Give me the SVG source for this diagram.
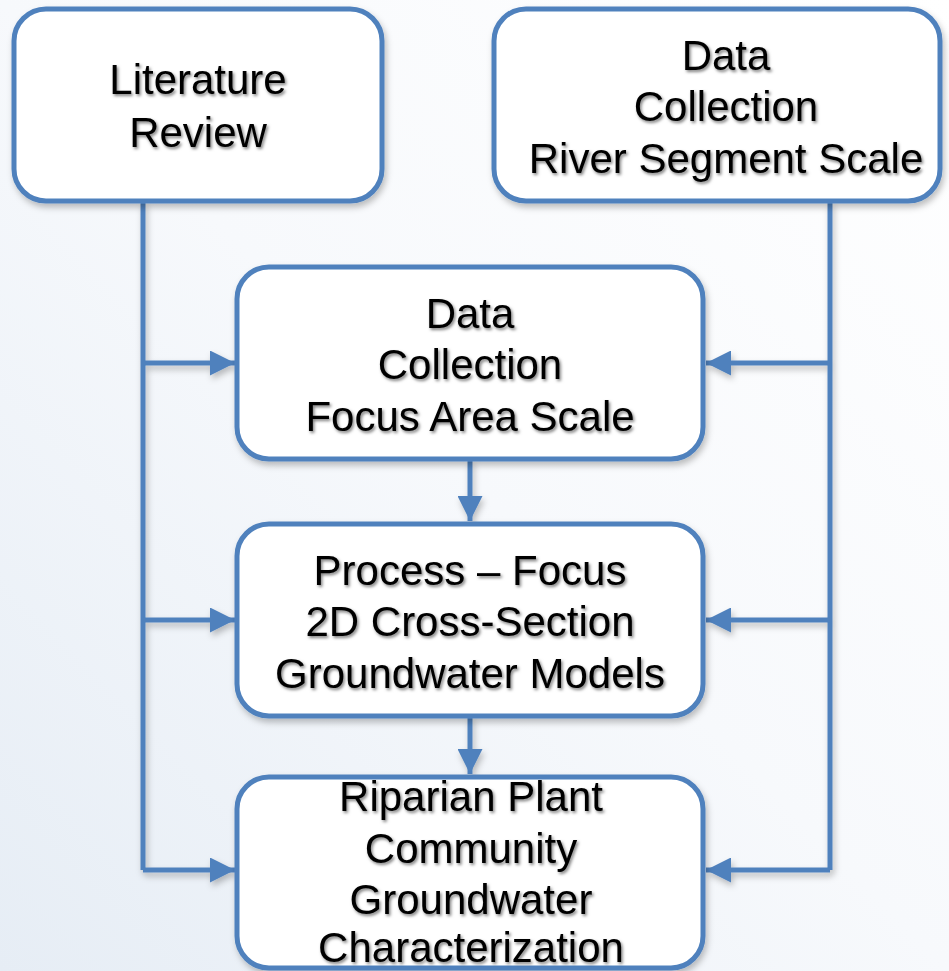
<svg xmlns="http://www.w3.org/2000/svg" width="949" height="971" viewBox="0 0 949 971">
  <defs>
    <linearGradient id="bg" x1="1" y1="0" x2="0" y2="1">
      <stop offset="0" stop-color="#ffffff"/>
      <stop offset="0.5" stop-color="#f7f9fc"/>
      <stop offset="1" stop-color="#e6edf5"/>
    </linearGradient>
    <filter id="shade" x="-10%" y="-10%" width="120%" height="130%">
      <feDropShadow dx="2" dy="4" stdDeviation="3" flood-color="#000" flood-opacity="0.25"/>
    </filter>
    <filter id="textShade" x="-5%" y="-20%" width="110%" height="150%">
      <feDropShadow dx="1.5" dy="2" stdDeviation="1.8" flood-color="#000" flood-opacity="0.5"/>
    </filter>
    <marker id="arrow" markerWidth="5" markerHeight="5" refX="5" refY="2.5" orient="auto" markerUnits="strokeWidth">
      <path d="M0,0 L5,2.5 L0,5 Z" fill="#4f81bd"/>
    </marker>
    <style>
      .box { fill: #ffffff; stroke: #4f81bd; stroke-width: 5; filter: url(#shade); }
      .lbl { font-family: "Liberation Sans", Arial, sans-serif; font-size: 42px; fill: #000; text-anchor: middle; filter: url(#textShade); }
      .wire { fill: none; stroke: #4f81bd; stroke-width: 5; }
      .arr { marker-end: url(#arrow); }
    </style>
  </defs>

  <rect width="949" height="971" fill="url(#bg)"/>

  <!-- connectors -->
  <g id="connectors" filter="url(#shade)">
    <path class="wire" d="M143,202 V870"/>
    <path class="wire arr" d="M143,363 H235"/>
    <path class="wire arr" d="M143,620 H235"/>
    <path class="wire arr" d="M143,870 H235"/>
    <path class="wire" d="M830,202 V870"/>
    <path class="wire arr" d="M830,363 H706"/>
    <path class="wire arr" d="M830,620 H706"/>
    <path class="wire arr" d="M830,870 H706"/>
    <path class="wire arr" d="M470,460 V521"/>
    <path class="wire arr" d="M470,716 V774"/>
  </g>

  <g id="literature-review">
    <rect class="box" x="14" y="9" width="368" height="192" rx="32"/>
    <text class="lbl" x="198" y="94">Literature</text>
    <text class="lbl" x="198" y="147">Review</text>
  </g>

  <g id="data-river-segment">
    <rect class="box" x="494" y="9" width="446" height="192" rx="32"/>
    <text class="lbl" x="726" y="70">Data</text>
    <text class="lbl" x="726" y="121">Collection</text>
    <text class="lbl" x="726" y="173">River Segment Scale</text>
  </g>

  <g id="data-focus-area">
    <rect class="box" x="237" y="267" width="466" height="192" rx="32"/>
    <text class="lbl" x="470" y="328">Data</text>
    <text class="lbl" x="470" y="379">Collection</text>
    <text class="lbl" x="470" y="431">Focus Area Scale</text>
  </g>

  <g id="process-focus">
    <rect class="box" x="237" y="524" width="466" height="192" rx="32"/>
    <text class="lbl" x="470" y="585">Process – Focus</text>
    <text class="lbl" x="470" y="636">2D Cross-Section</text>
    <text class="lbl" x="470" y="688">Groundwater Models</text>
  </g>

  <g id="riparian-characterization">
    <rect class="box" x="237" y="777" width="466" height="191" rx="32"/>
    <text class="lbl" x="471" y="811">Riparian Plant</text>
    <text class="lbl" x="471" y="863">Community</text>
    <text class="lbl" x="471" y="914">Groundwater</text>
    <text class="lbl" x="471" y="962">Characterization</text>
  </g>
</svg>
